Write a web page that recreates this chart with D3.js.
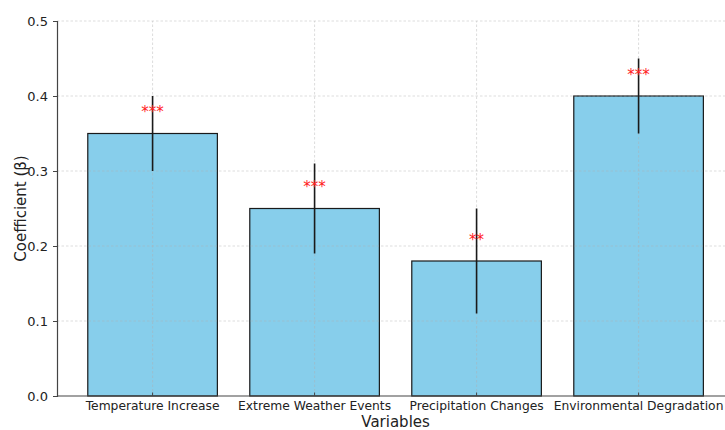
<!DOCTYPE html>
<html>
<head>
<meta charset="utf-8">
<script src="https://cdn.jsdelivr.net/npm/d3@7"></script>
<style>
  html, body { margin: 0; padding: 0; background: #fff; }
  svg { display: block; font-family: "DejaVu Sans", sans-serif; }
</style>
</head>
<body>
<svg id="chart" width="725" height="430"></svg>
<script>
// Regression coefficients by climate variable
const categories = ["Temperature Increase", "Extreme Weather Events", "Precipitation Changes", "Environmental Degradation"];
const coefficients = [0.35, 0.25, 0.18, 0.40];
const errors = [0.05, 0.06, 0.07, 0.05];
const significance = ["***", "***", "**", "***"];
const yTicks = [0.0, 0.1, 0.2, 0.3, 0.4, 0.5];

const svg = d3.select("#chart");
const margin = { left: 57, top: 21, bottom: 34 };
const height = 430;
const plotBottom = height - margin.bottom;

// x domain in category units, padded like a default bar layout
const x = d3.scaleLinear().domain([-0.59, 3.59]).range([margin.left, margin.left + 4.18 * 162]);
const y = d3.scaleLinear().domain([0, 0.5]).range([plotBottom, margin.top]);
const barWidth = 0.8;

const g = svg.append("g");

// Bars
g.selectAll("rect.bar")
  .data(coefficients)
  .join("rect")
  .attr("class", "bar")
  .attr("x", (d, i) => x(i - barWidth / 2))
  .attr("width", (d, i) => x(i + barWidth / 2) - x(i - barWidth / 2))
  .attr("y", d => y(d))
  .attr("height", d => y(0) - y(d))
  .attr("fill", "#87ceeb")
  .attr("stroke", "#1a1a1a")
  .attr("stroke-width", 1.2);

// Grid lines (on top of bars, faint)
const grid = g.append("g").attr("stroke", "#b0b0b0").attr("stroke-opacity", 0.55)
  .attr("stroke-dasharray", "2.5,2").attr("stroke-width", 0.8);
grid.selectAll("line.h").data(yTicks.slice(1)).join("line")
  .attr("x1", x(-0.59)).attr("x2", 725)
  .attr("y1", d => y(d)).attr("y2", d => y(d));
grid.selectAll("line.v").data(categories).join("line")
  .attr("x1", (d, i) => x(i)).attr("x2", (d, i) => x(i))
  .attr("y1", y(0)).attr("y2", y(0.5));

// Error bars
g.selectAll("line.err")
  .data(coefficients)
  .join("line")
  .attr("class", "err")
  .attr("x1", (d, i) => x(i)).attr("x2", (d, i) => x(i))
  .attr("y1", (d, i) => y(d - errors[i]))
  .attr("y2", (d, i) => y(d + errors[i]))
  .attr("stroke", "#1a1a1a")
  .attr("stroke-width", 1.6);

// Significance stars
g.selectAll("text.sig")
  .data(significance)
  .join("text")
  .attr("class", "sig")
  .attr("x", (d, i) => x(i))
  .attr("y", (d, i) => y(coefficients[i] + 0.022))
  .attr("text-anchor", "middle")
  .attr("fill", "#ff2020")
  .attr("font-size", 15)
  .text(d => d);

// Y axis
const yAxis = d3.axisLeft(y).tickValues(yTicks).tickFormat(d3.format(".1f")).tickSize(4).tickPadding(5);
const ya = svg.append("g").attr("transform", `translate(${margin.left},0)`).call(yAxis);
ya.select(".domain").attr("stroke", "#444").attr("stroke-width", 1.2);
ya.selectAll(".tick line").attr("stroke", "#444");
ya.selectAll(".tick text").attr("font-size", 13).attr("fill", "#222").attr("font-family", "DejaVu Sans");

// X axis
const xa = svg.append("g").attr("transform", `translate(0,${plotBottom})`);
xa.append("line").attr("x1", x(-0.59)).attr("x2", 725).attr("y1", 0).attr("y2", 0)
  .attr("stroke", "#444").attr("stroke-width", 1.2);
xa.selectAll("line.tk").data(categories).join("line")
  .attr("class", "tk")
  .attr("x1", (d, i) => x(i)).attr("x2", (d, i) => x(i))
  .attr("y1", 0).attr("y2", -3.5).attr("stroke", "#444");
xa.selectAll("text").data(categories).join("text")
  .attr("x", (d, i) => x(i)).attr("y", 14)
  .attr("text-anchor", "middle")
  .attr("font-size", 12.3).attr("fill", "#222")
  .text(d => d);

// Axis titles
svg.append("text").attr("x", x(1.5)).attr("y", 427)
  .attr("text-anchor", "middle").attr("font-size", 15).attr("fill", "#222")
  .text("Variables");
svg.append("text").attr("transform", `translate(26,${y(0.25)}) rotate(-90)`)
  .attr("text-anchor", "middle").attr("font-size", 15).attr("fill", "#222")
  .text("Coefficient (β)");
</script>
</body>
</html>
